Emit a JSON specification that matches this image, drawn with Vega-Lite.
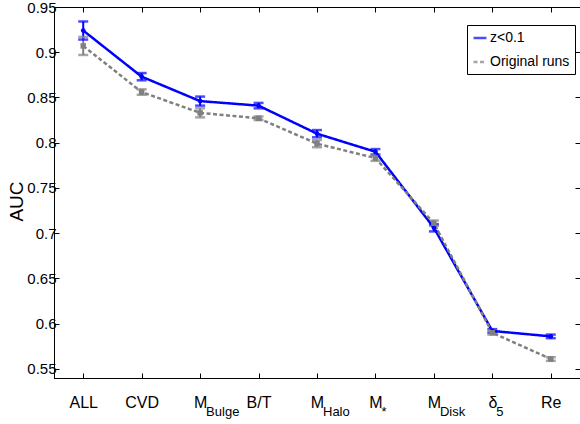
{
  "$schema": "https://vega.github.io/schema/vega-lite/v6.json",
  "width": 526,
  "height": 371,
  "autosize": "none",
  "padding": {"left": 54, "top": 7, "right": 0, "bottom": 46},
  "background": "white",
  "config": {
    "view": {"stroke": "black", "strokeWidth": 1},
    "font": "Liberation Sans",
    "axis": {
      "labelFont": "Liberation Sans",
      "labelFontSize": 15,
      "labelColor": "black",
      "domainColor": "black",
      "tickColor": "black",
      "tickSize": -5,
      "grid": false,
      "titleFont": "Liberation Sans",
      "titleColor": "black"
    },
    "legend": {"labelFont": "Liberation Sans"}
  },
  "datasets": {
    "auc": [
      {"cat": "ALL", "series": "z<0.1", "auc": 0.924, "lo": 0.914, "hi": 0.934},
      {"cat": "CVD", "series": "z<0.1", "auc": 0.873, "lo": 0.869, "hi": 0.877},
      {"cat": "M_Bulge", "series": "z<0.1", "auc": 0.846, "lo": 0.841, "hi": 0.851},
      {"cat": "B/T", "series": "z<0.1", "auc": 0.841, "lo": 0.838, "hi": 0.844},
      {"cat": "M_Halo", "series": "z<0.1", "auc": 0.810, "lo": 0.806, "hi": 0.814},
      {"cat": "M_*", "series": "z<0.1", "auc": 0.790, "lo": 0.787, "hi": 0.793},
      {"cat": "M_Disk", "series": "z<0.1", "auc": 0.706, "lo": 0.702, "hi": 0.710},
      {"cat": "δ_5", "series": "z<0.1", "auc": 0.592, "lo": 0.590, "hi": 0.594},
      {"cat": "Re", "series": "z<0.1", "auc": 0.586, "lo": 0.584, "hi": 0.588},
      {"cat": "ALL", "series": "Original runs", "auc": 0.907, "lo": 0.897, "hi": 0.917},
      {"cat": "CVD", "series": "Original runs", "auc": 0.856, "lo": 0.853, "hi": 0.859},
      {"cat": "M_Bulge", "series": "Original runs", "auc": 0.833, "lo": 0.828, "hi": 0.838},
      {"cat": "B/T", "series": "Original runs", "auc": 0.827, "lo": 0.825, "hi": 0.829},
      {"cat": "M_Halo", "series": "Original runs", "auc": 0.799, "lo": 0.795, "hi": 0.803},
      {"cat": "M_*", "series": "Original runs", "auc": 0.783, "lo": 0.780, "hi": 0.786},
      {"cat": "M_Disk", "series": "Original runs", "auc": 0.711, "lo": 0.708, "hi": 0.714},
      {"cat": "δ_5", "series": "Original runs", "auc": 0.590, "lo": 0.588, "hi": 0.592},
      {"cat": "Re", "series": "Original runs", "auc": 0.561, "lo": 0.559, "hi": 0.563}
    ],
    "subs": [
      {"cat": "M_Bulge", "sub": "Bulge"},
      {"cat": "M_Halo", "sub": "Halo"},
      {"cat": "M_*", "sub": "*"},
      {"cat": "M_Disk", "sub": "Disk"},
      {"cat": "δ_5", "sub": "5"}
    ]
  },
  "resolve": {"axis": {"x": "independent", "y": "independent"}},
  "layer": [
    {
      "data": {"name": "auc"},
      "mark": {"type": "rule", "strokeWidth": 2},
      "encoding": {
        "x": {"field": "cat", "type": "ordinal",
          "scale": {"type": "point", "padding": 0.5, "domain": ["ALL", "CVD", "M_Bulge", "B/T", "M_Halo", "M_*", "M_Disk", "δ_5", "Re"]},
          "axis": {"orient": "bottom", "title": null, "labelAngle": 0, "labelPadding": 21, "labelFontSize": 16, "labelExpr": "split(datum.value, '_')[0]"}},
        "y": {"field": "lo", "type": "quantitative",
          "scale": {"domain": [0.54, 0.95], "nice": false, "zero": false},
          "axis": {"orient": "left", "title": "AUC", "titleFontSize": 19, "titleFontWeight": "normal", "titleAngle": 270, "titleX": -38, "titleY": 194, "titleAlign": "center", "titleBaseline": "middle", "values": [0.55, 0.6, 0.65, 0.7, 0.75, 0.8, 0.85, 0.9, 0.95], "format": "~g", "labelPadding": 3}},
        "y2": {"field": "hi"},
        "color": {"field": "series", "type": "nominal", "scale": {"domain": ["z<0.1", "Original runs"], "range": ["#0000ff", "#808080"]}}
      }
    },
    {
      "data": {"name": "auc"},
      "mark": {"type": "tick", "size": 10, "thickness": 2.5},
      "encoding": {
        "x": {"field": "cat", "type": "ordinal", "axis": null},
        "y": {"field": "lo", "type": "quantitative", "axis": null},
        "color": {"field": "series", "type": "nominal"}
      }
    },
    {
      "data": {"name": "auc"},
      "mark": {"type": "tick", "size": 10, "thickness": 2.5},
      "encoding": {
        "x": {"field": "cat", "type": "ordinal", "axis": null},
        "y": {"field": "hi", "type": "quantitative", "axis": null},
        "color": {"field": "series", "type": "nominal"}
      }
    },
    {
      "data": {"name": "auc"},
      "mark": {"type": "line", "strokeWidth": 2.5},
      "encoding": {
        "x": {"field": "cat", "type": "ordinal", "axis": null},
        "y": {"field": "auc", "type": "quantitative", "axis": null},
        "color": {"field": "series", "type": "nominal",
          "legend": {"title": null, "orient": "none", "legendX": 413, "legendY": 18, "strokeColor": "black", "fillColor": "white", "padding": 5, "symbolType": "stroke", "symbolSize": 169, "symbolStrokeWidth": 2.5, "labelFontSize": 14, "labelColor": "black", "rowPadding": 9, "labelOffset": 2}},
        "strokeDash": {"field": "series", "type": "nominal", "scale": {"domain": ["z<0.1", "Original runs"], "range": [[1, 0], [4, 2.5]]},
          "legend": {"title": null, "orient": "none", "legendX": 413, "legendY": 18}}
      }
    },
    {
      "data": {"name": "auc"},
      "transform": [{"filter": "datum.series === 'z<0.1'"}],
      "mark": {"type": "point", "filled": true, "shape": "circle", "size": 22, "color": "#0000ff", "opacity": 1},
      "encoding": {
        "x": {"field": "cat", "type": "ordinal", "axis": null},
        "y": {"field": "auc", "type": "quantitative", "axis": null}
      }
    },
    {
      "data": {"name": "auc"},
      "transform": [{"filter": "datum.series === 'Original runs'"}],
      "mark": {"type": "point", "filled": true, "shape": "square", "size": 30, "color": "#808080", "opacity": 1},
      "encoding": {
        "x": {"field": "cat", "type": "ordinal", "axis": null},
        "y": {"field": "auc", "type": "quantitative", "axis": null}
      }
    },
    {
      "data": {"name": "subs"},
      "transform": [{"filter": "datum.sub !== '5'"}],
      "mark": {"type": "text", "align": "left", "baseline": "alphabetic", "dx": 6, "dy": 38, "fontSize": 13, "font": "Liberation Sans", "color": "black"},
      "encoding": {
        "x": {"field": "cat", "type": "ordinal", "axis": {"orient": "top", "labels": false, "title": null, "domain": false}},
        "y": {"datum": 0.54, "type": "quantitative", "axis": {"orient": "right", "labels": false, "title": null, "domain": false, "values": [0.55, 0.6, 0.65, 0.7, 0.75, 0.8, 0.85, 0.9, 0.95]}},
        "text": {"field": "sub"}
      }
    },
    {
      "data": {"name": "subs"},
      "transform": [{"filter": "datum.sub === '5'"}],
      "mark": {"type": "text", "align": "left", "baseline": "alphabetic", "dx": 4, "dy": 38, "fontSize": 13, "font": "Liberation Sans", "color": "black"},
      "encoding": {
        "x": {"field": "cat", "type": "ordinal", "axis": null},
        "y": {"datum": 0.54, "type": "quantitative", "axis": null},
        "text": {"field": "sub"}
      }
    }
  ]
}
